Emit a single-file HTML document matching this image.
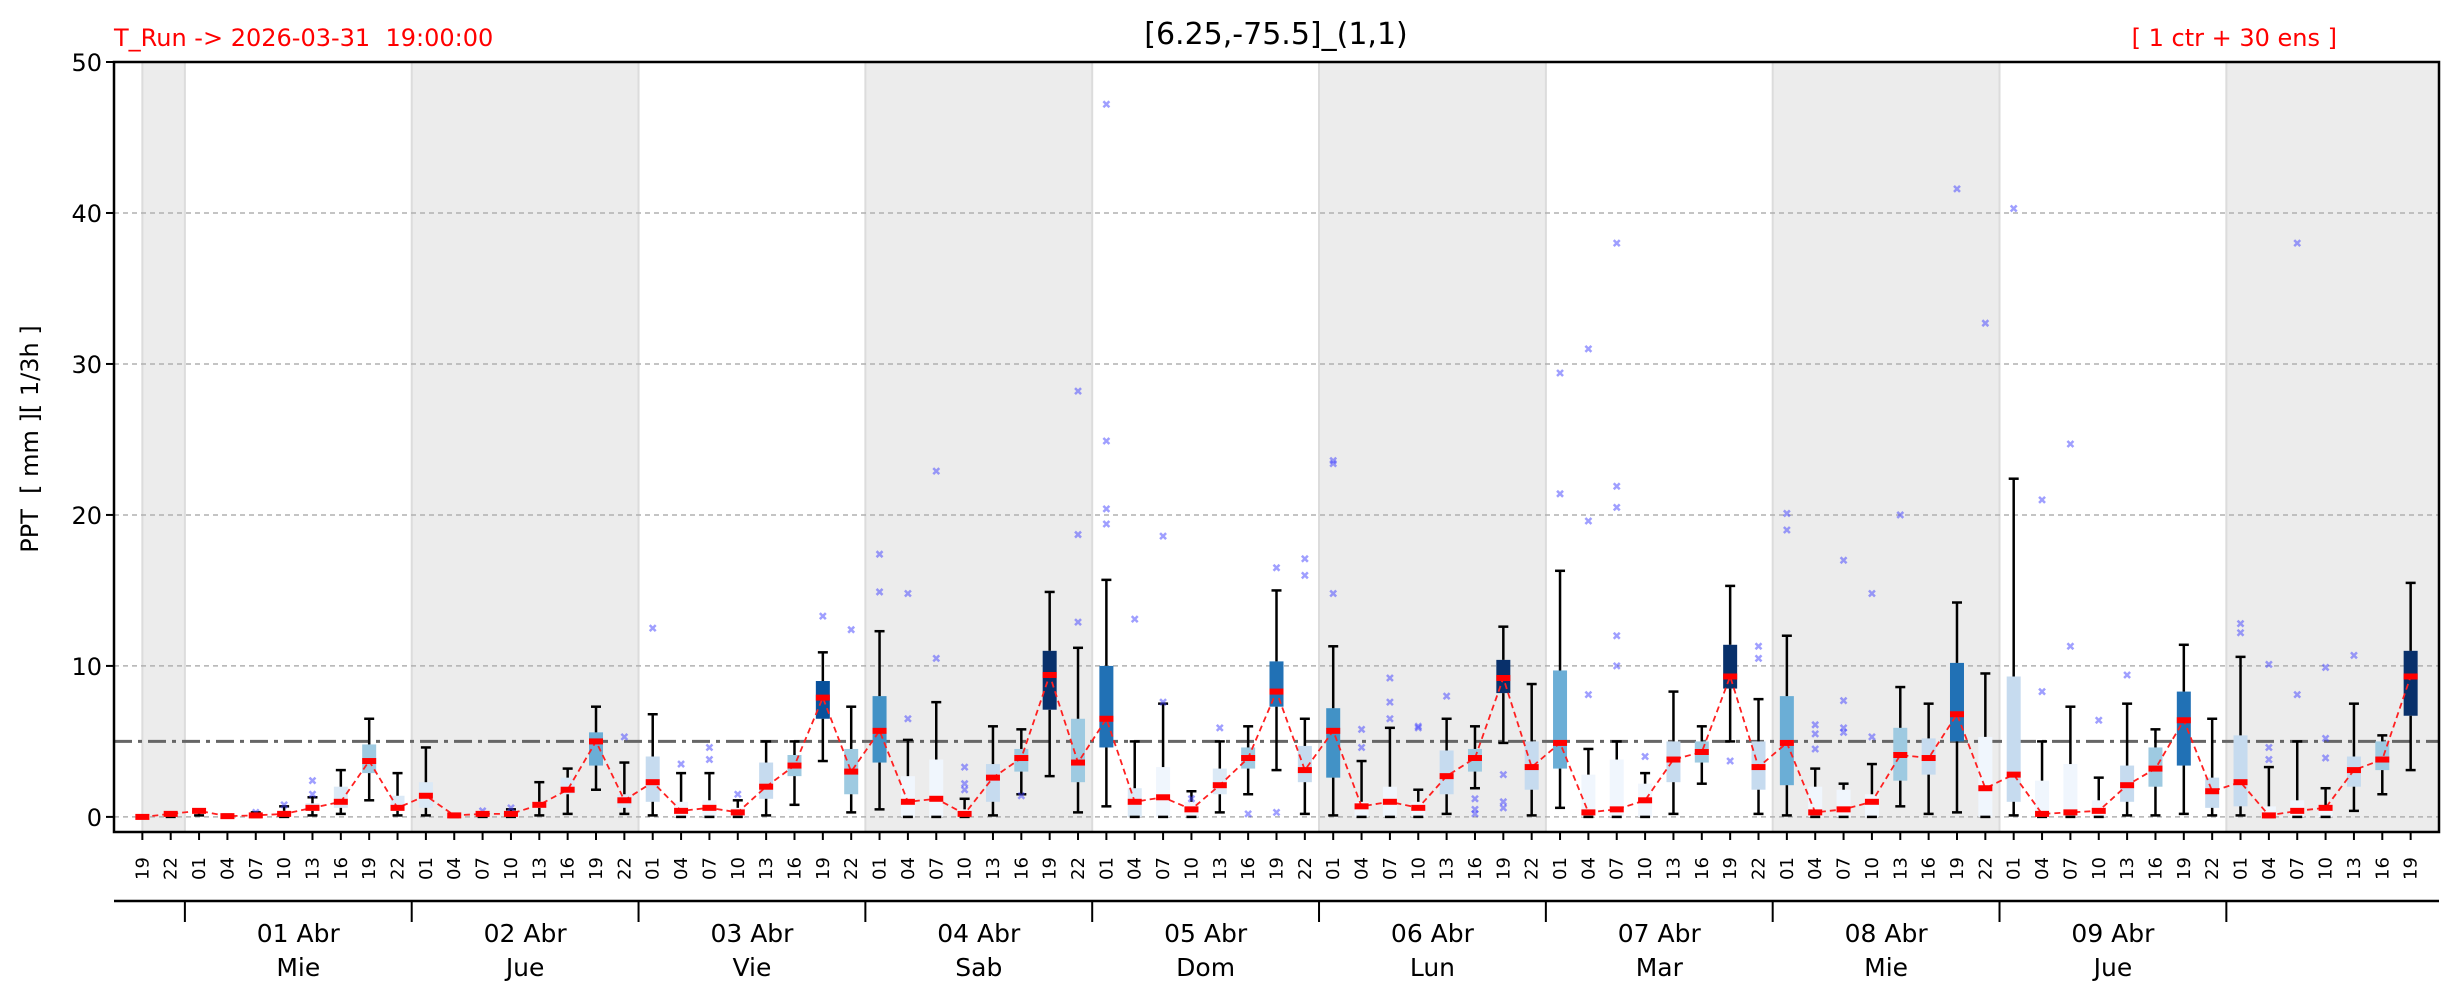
<!DOCTYPE html>
<html><head><meta charset="utf-8"><style>
html,body{margin:0;padding:0;background:#fff;}
svg{display:block;font-family:"DejaVu Sans","Liberation Sans",sans-serif;}
text{white-space:pre;}
</style></head><body>
<svg id="chart" xmlns="http://www.w3.org/2000/svg" width="2459" height="1001" viewBox="0 0 2459 1001" xml:space="preserve">
<rect width="2459" height="1001" fill="#fff"/>
<g id="bands"></g>
<g id="grid"></g>
<g id="marks"></g>
<g id="axes"></g>
<text x="114" y="46" font-size="24" fill="#ff0000">T_Run -&gt; 2026-03-31  19:00:00</text>
<text x="1276" y="44" font-size="30" text-anchor="middle" fill="#000">[6.25,-75.5]_(1,1)</text>
<text x="2337" y="46" font-size="24" text-anchor="end" fill="#ff0000">[ 1 ctr + 30 ens ]</text>
<text transform="translate(38,439) rotate(-90)" font-size="24" text-anchor="middle" fill="#000">PPT  [ mm ][ 1/3h ]</text>
</svg>
<script>
const hours = ["19","22","01","04","07","10","13","16","19","22","01","04","07","10","13","16","19","22","01","04","07","10","13","16","19","22","01","04","07","10","13","16","19","22","01","04","07","10","13","16","19","22","01","04","07","10","13","16","19","22","01","04","07","10","13","16","19","22","01","04","07","10","13","16","19","22","01","04","07","10","13","16","19","22","01","04","07","10","13","16","19"];
const dayLabels = ["01 Abr","02 Abr","03 Abr","04 Abr","05 Abr","06 Abr","07 Abr","08 Abr","09 Abr"];
const weekdays = ["Mie","Jue","Vie","Sab","Dom","Lun","Mar","Mie","Jue"];
const yTicks = [0,10,20,30,40,50];
const threshold = 5;
const medians = [0,0.2,0.4,0.05,0.1,0.2,0.6,1.0,3.7,0.6,1.4,0.1,0.2,0.2,0.8,1.8,5.0,1.1,2.3,0.4,0.6,0.3,2.0,3.4,7.9,3.0,5.7,1.0,1.2,0.2,2.6,3.9,9.4,3.6,6.5,1.0,1.3,0.5,2.1,3.9,8.3,3.1,5.7,0.7,1.0,0.6,2.7,3.9,9.2,3.3,4.9,0.3,0.5,1.1,3.8,4.3,9.3,3.3,4.9,0.3,0.5,1.0,4.1,3.9,6.8,1.9,2.8,0.2,0.3,0.4,2.1,3.2,6.4,1.7,2.3,0.1,0.4,0.6,3.1,3.8,9.3];
const q1 = [0,0.1,0.3,0,0,0.1,0.4,0.6,2.9,0.4,0.6,0,0.1,0.1,0.6,1.5,3.4,0.6,1.0,0,0,0,1.2,2.7,6.5,1.5,3.6,0,0,0,1.0,3.0,7.1,2.3,4.6,0,0,0,1.5,3.2,7.3,2.3,2.6,0,0,0,1.5,3.0,8.2,1.8,3.2,0,0,0,2.3,3.6,8.5,1.8,2.1,0,0,0,2.4,2.8,5.0,0,1.0,0,0,0,1.0,2.0,3.4,0.6,0.7,0,0,0,2.0,3.1,6.7];
const q3 = [0.05,0.3,0.5,0.1,0.2,0.4,0.9,2.0,4.8,1.4,2.3,0.15,0.3,0.3,1.0,2.6,5.6,1.5,4.0,1.0,1.1,0.6,3.6,4.1,9.0,4.5,8.0,2.7,3.8,0.5,3.5,4.5,11.0,6.5,10.0,1.9,3.3,1.0,3.2,4.6,10.3,4.7,7.2,1.0,2.0,1.0,4.4,4.5,10.4,5.0,9.7,2.8,3.8,2.2,5.0,5.0,11.4,5.0,8.0,2.0,1.8,1.5,5.9,5.2,10.2,5.3,9.3,2.4,3.5,1.1,3.4,4.6,8.3,2.6,5.4,0.7,1.1,0.7,4.0,5.0,11.0];
const whiskLow = [0,0,0.1,0,0,0,0.1,0.2,1.1,0.1,0.1,0,0,0,0.1,0.2,1.8,0.2,0.1,0,0,0,0.1,0.8,3.7,0.3,0.5,0,0,0,0.1,1.5,2.7,0.3,0.7,0,0,0,0.3,1.5,3.1,0.2,0.1,0,0,0,0.2,1.9,4.9,0.1,0.6,0,0,0,0.2,2.2,5.0,0.2,0.1,0,0,0,0.7,0.2,0.3,0,0.1,0,0,0,0.1,0.1,0.2,0.1,0.1,0,0,0,0.4,1.5,3.1];
const whiskHigh = [0.1,0.3,0.5,0.15,0.3,0.7,1.3,3.1,6.5,2.9,4.6,0.2,0.3,0.5,2.3,3.2,7.3,3.6,6.8,2.9,2.9,1.1,5.0,5.0,10.9,7.3,12.3,5.1,7.6,1.2,6.0,5.8,14.9,11.2,15.7,5.0,7.5,1.7,5.0,6.0,15.0,6.5,11.3,3.7,5.9,1.8,6.5,6.0,12.6,8.8,16.3,4.5,5.0,2.9,8.3,6.0,15.3,7.8,12.0,3.2,2.2,3.5,8.6,7.5,14.2,9.5,22.4,5.0,7.3,2.6,7.5,5.8,11.4,6.5,10.6,3.3,5.0,1.9,7.5,5.4,15.5];
const colorLevel = [0,0,0,0,0,0,1,1,3,1,1,0,0,0,0,1,4,1,2,0,0,0,2,3,7,3,5,0,0,0,2,3,8,3,6,1,0,0,1,3,6,2,5,0,0,0,2,3,8,2,4,0,0,0,2,3,8,2,4,0,0,0,3,2,6,0,2,0,0,0,2,3,6,2,2,0,0,0,2,3,8];
const outlierIdx = [4,5,6,6,12,13,17,18,19,20,20,21,24,25,26,26,27,27,28,28,29,29,29,31,33,33,33,34,34,34,34,35,36,36,37,38,39,40,40,41,41,42,42,42,43,43,44,44,44,45,45,46,47,47,47,48,48,48,50,50,51,51,51,52,52,52,52,52,53,56,57,57,58,58,59,59,59,60,60,60,60,61,61,62,64,65,66,67,67,68,68,69,70,74,74,75,75,75,76,76,77,77,77,78];
const outlierVal = [0.3,0.8,2.4,1.5,0.4,0.6,5.3,12.5,3.5,3.8,4.6,1.5,13.3,12.4,17.4,14.9,14.8,6.5,22.9,10.5,3.3,2.2,1.8,1.4,28.2,18.7,12.9,47.2,24.9,20.4,19.4,13.1,18.6,7.6,1.2,5.9,0.2,16.5,0.3,17.1,16.0,23.6,23.4,14.8,5.8,4.6,9.2,7.6,6.5,6.0,5.9,8.0,1.2,0.5,0.2,2.8,1.0,0.6,29.4,21.4,31.0,19.6,8.1,38.0,21.9,20.5,12.0,10.0,4.0,3.7,11.3,10.5,20.1,19.0,6.1,5.5,4.5,17.0,7.7,5.9,5.6,14.8,5.3,20.0,41.6,32.7,40.3,21.0,8.3,24.7,11.3,6.4,9.4,12.8,12.2,10.1,4.6,3.8,38.0,8.1,9.9,5.2,3.9,10.7];

const NS = "http://www.w3.org/2000/svg";
const L = 114, R = 2439, T = 62, B = 832;
const xMin = -1, xMax = 81, yMin = -1, yMax = 50;
const palette = ['#f0f6fd','#dbe9f6','#c6dbef','#9ecae1','#6baed6','#4292c6','#2171b5','#08519c','#08306b'];
function xs(i){ return L + (i - xMin) / (xMax - xMin) * (R - L); }
function ys(v){ return B - (v - yMin) / (yMax - yMin) * (B - T); }
function mk(tag, attrs, parent){ const e = document.createElementNS(NS, tag); for (const k in attrs) e.setAttribute(k, attrs[k]); parent.appendChild(e); return e; }

const bands = document.getElementById('bands');
const grid = document.getElementById('grid');
const marks = document.getElementById('marks');
const axes = document.getElementById('axes');

const bandRanges = [[0,1.5],[9.5,17.5],[25.5,33.5],[41.5,49.5],[57.5,65.5],[73.5,81]];
bandRanges.forEach(function(b){
  const r = mk('rect', {x: xs(b[0]), y: T, width: xs(b[1]) - xs(b[0]), height: B - T, fill: '#ececec', stroke: '#dcdcdc', 'stroke-width': 2}, bands);
  
  
});

yTicks.forEach(function(v){
  if (v === 50) return;
  const g = mk('line', {x1: L, x2: R, y1: ys(v), y2: ys(v), stroke: '#b0b0b0', 'stroke-width': 1.5, 'stroke-dasharray': '5,4'}, grid);
  
  
});
const th = mk('line', {x1: L, x2: R, y1: ys(threshold), y2: ys(threshold), stroke: '#666', 'stroke-width': 3, 'stroke-dasharray': '18,6,4,6'}, grid);



const bw = 14, cw = 10;
medians.forEach(function(m, i){
  const x = xs(i);
  const g = mk('g', {}, marks);
  
  
  const yq1 = ys(q1[i]), yq3 = ys(q3[i]);
  mk('rect', {x: x - bw/2, y: yq3, width: bw, height: Math.max(yq1 - yq3, 1), fill: palette[colorLevel[i]]}, g);
  mk('line', {x1: x, x2: x, y1: ys(q3[i]), y2: ys(whiskHigh[i]), stroke: '#000', 'stroke-width': 2.5}, g);
  mk('line', {x1: x, x2: x, y1: ys(q1[i]), y2: ys(whiskLow[i]), stroke: '#000', 'stroke-width': 2.5}, g);
  mk('line', {x1: x - cw/2, x2: x + cw/2, y1: ys(whiskHigh[i]), y2: ys(whiskHigh[i]), stroke: '#000', 'stroke-width': 2.5}, g);
  mk('line', {x1: x - cw/2, x2: x + cw/2, y1: ys(whiskLow[i]), y2: ys(whiskLow[i]), stroke: '#000', 'stroke-width': 2.5}, g);
});
outlierIdx.forEach(function(i, k){
  const x = xs(i), y = ys(outlierVal[k]), s = 3;
  const p = mk('path', {d: 'M' + (x-s) + ' ' + (y-s) + 'L' + (x+s) + ' ' + (y+s) + 'M' + (x-s) + ' ' + (y+s) + 'L' + (x+s) + ' ' + (y-s), stroke: '#4040ff', 'stroke-opacity': 0.5, 'stroke-width': 2.5}, marks);
  
  
});
const pts = medians.map(function(m, i){ return xs(i) + ',' + ys(m); }).join(' ');
const ml = mk('polyline', {points: pts, fill: 'none', stroke: '#ff2020', 'stroke-width': 1.8, 'stroke-dasharray': '6,4'}, marks);


medians.forEach(function(m, i){
  const r = mk('rect', {x: xs(i) - bw/2, y: ys(m) - 3, width: bw, height: 6, fill: '#ff0000'}, marks);
  
  
});

const fr = mk('rect', {x: L, y: T, width: R - L, height: B - T, fill: 'none', stroke: '#000', 'stroke-width': 2.5}, axes);


yTicks.forEach(function(v){
  mk('line', {x1: L - 8, x2: L, y1: ys(v), y2: ys(v), stroke: '#000', 'stroke-width': 2}, axes);
  const t = mk('text', {x: L - 12, y: ys(v) + 9, 'font-size': 24, 'text-anchor': 'end', fill: '#000'}, axes);
  t.textContent = v;
  
  
});
hours.forEach(function(h, i){
  const x = xs(i);
  mk('line', {x1: x, x2: x, y1: B, y2: B + 8, stroke: '#000', 'stroke-width': 2}, axes);
  const t = mk('text', {transform: 'translate(' + (x + 6) + ',' + 880 + ') rotate(-90)', 'font-size': 18, fill: '#000'}, axes);
  t.textContent = h;
  
  
});
mk('line', {x1: L, x2: R, y1: 901, y2: 901, stroke: '#000', 'stroke-width': 2.5}, axes);
for (let d = 0; d <= dayLabels.length; d++) {
  const x = xs(1.5 + d * 8);
  mk('line', {x1: x, x2: x, y1: 901, y2: 922, stroke: '#000', 'stroke-width': 2}, axes);
}
dayLabels.forEach(function(lbl, d){
  const x = xs(5.5 + d * 8);
  const t = mk('text', {x: x, y: 942, 'font-size': 25, 'text-anchor': 'middle', fill: '#000'}, axes);
  t.textContent = lbl;
  
  
  const w = mk('text', {x: x, y: 976, 'font-size': 25, 'text-anchor': 'middle', fill: '#000'}, axes);
  w.textContent = weekdays[d];
  
  
});
</script>
</body></html>
